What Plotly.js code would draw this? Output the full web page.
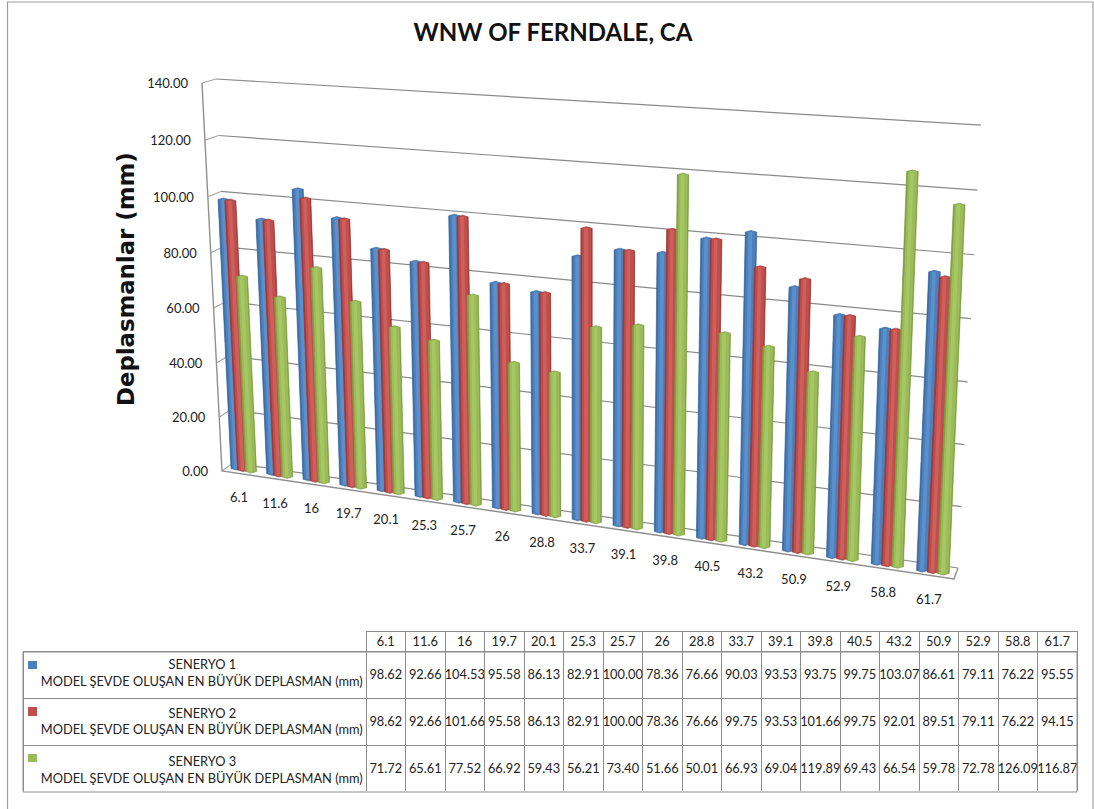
<!DOCTYPE html>
<html><head><meta charset="utf-8">
<script src="https://cdn.plot.ly/plotly-3.0.1.min.js"></script>
<style>html,body{margin:0;padding:0;background:#fff}#c{width:1094px;height:809px}</style>
</head><body><div id="c"></div>
<script>
const categories = ["6.1","11.6","16","19.7","20.1","25.3","25.7","26","28.8","33.7","39.1","39.8","40.5","43.2","50.9","52.9","58.8","61.7"];
const seneryo1 = [98.62,92.66,104.53,95.58,86.13,82.91,100.00,78.36,76.66,90.03,93.53,93.75,99.75,103.07,86.61,79.11,76.22,95.55];
const seneryo2 = [98.62,92.66,101.66,95.58,86.13,82.91,100.00,78.36,76.66,99.75,93.53,101.66,99.75,92.01,89.51,79.11,76.22,94.15];
const seneryo3 = [71.72,65.61,77.52,66.92,59.43,56.21,73.40,51.66,50.01,66.93,69.04,119.89,69.43,66.54,59.78,72.78,126.09,116.87];
const seriesNames = ["SENERYO 1","SENERYO 2","SENERYO 3"];
const rowLabel = "MODEL ŞEVDE OLUŞAN EN BÜYÜK DEPLASMAN (mm)";
const gridValues = [0,20,40,60,80,100,120,140];
const seriesColors = ["#4c80bd","#c04f4c","#9abb58"];
const seriesDark = ["#376798","#98343 2".replace(" ",""),"#7a983f"];
const seriesLight = ["#6094d0","#d16360","#aacb67"];

const W = 1094, H = 809, FONT = "Lato, sans-serif";
const Y0 = 470, PX = 2.771;              // page row of the zero line and pixels per unit of the plot's y axis
const toAxis = py => (Y0 - py) / PX;     // page row -> y-axis units

// Oblique view of the chart box: height warp, floor position, then height and lean at that position
const warp = v => v * (0.965 + 0.00025 * v);
const groundX = i => (243 + 34.07 * i) / (1 - 0.00698 * i);
const groundY = x => 470 + 0.1478 * (x - 243);
const rise = x => 2.756 + 0.00059 * (x - 237);
const lean = x => 0.00038 * (x - 585);

function barPolys(values, s) {
  const out = {base:{x:[],y:[]}, dark:{x:[],y:[]}, light:{x:[],y:[]}};
  values.forEach((v, i) => {
    const t = i / 17, hw = 5.5 + 0.3 * t;
    const spacing = s === 0 ? 6.5 + 4 * t : 8 + 2.5 * t;
    const cx = groundX(i) + (s - 1) * spacing;
    const cy = groundY(groundX(i)) + (s - 1) * 1.5;
    const h = warp(v);
    const tx = cx + lean(cx) * h, ty = cy - rise(cx) * h;
    const pt = (a, e) => [cx + (a*2-1)*hw + (tx-cx)*e, cy - (cy-ty)*e];
    const band = (o, a0, a1, round) => {
      const p = [pt(a0,0), [(pt(a0,0)[0]+pt(a1,0)[0])/2, cy + round], pt(a1,0), pt(a1,1),
                 [(pt(a0,1)[0]+pt(a1,1)[0])/2, ty - round], pt(a0,1), pt(a0,0)];
      p.forEach(q => { o.x.push(q[0]); o.y.push(toAxis(q[1])); });
      o.x.push(null); o.y.push(null);
    };
    band(out.base, 0, 1, 1.6);
    band(out.dark, 0, 0.12, 0);
    band(out.dark, 0.92, 1, 0);
    band(out.light, 0.3, 0.62, 0);
  });
  return out;
}

const traces = [];
const common = {hoverinfo:"skip",cliponaxis:false,showlegend:false};
const grid = {x:[], y:[]}, side = {x:[], y:[]};
gridValues.forEach(g => {
  const v = warp(g);
  grid.x.push(233 - 0.121*v, 958 + 0.164*v, null);
  grid.y.push(toAxis(463 - 2.743*v), toAxis(568 - 3.164*v), null);
  side.x.push(222 - 0.143*v, 233 - 0.121*v, null);
  side.y.push(toAxis(471 - 2.771*v), toAxis(463 - 2.743*v), null);
});
traces.push({type:"scatter",mode:"lines",x:grid.x,y:grid.y,line:{color:"#8a8a8a",width:1.2},...common});
traces.push({type:"scatter",mode:"lines",x:side.x,y:side.y,line:{color:"#a6a6a6",width:1.1},...common});
const vmax = warp(gridValues[gridValues.length-1]);
traces.push({type:"scatter",mode:"lines",
  x:[222-0.143*vmax,222,954,958],
  y:[toAxis(471-2.771*vmax),toAxis(471),toAxis(579),toAxis(568)],
  line:{color:"#8f8f8f",width:1.4},...common});

[seneryo1,seneryo2,seneryo3].forEach((vals,s)=>{
  const p = barPolys(vals,s);
  traces.push({type:"scatter",mode:"lines",name:seriesNames[s],x:p.base.x,y:p.base.y,fill:"toself",fillcolor:seriesColors[s],line:{color:seriesDark[s],width:0.6},...common});
  traces.push({type:"scatter",mode:"lines",x:p.dark.x,y:p.dark.y,fill:"toself",fillcolor:seriesDark[s],line:{width:0},opacity:0.7,...common});
  traces.push({type:"scatter",mode:"lines",x:p.light.x,y:p.light.y,fill:"toself",fillcolor:seriesLight[s],line:{width:0},opacity:0.8,...common});
});

// value-axis labels follow the slanted left edge of the box
traces.push({type:"scatter",mode:"text",text:gridValues.map(g=>g.toFixed(2)),
  x:gridValues.map(g=>222-0.143*warp(g)-14),
  y:gridValues.map(g=>toAxis(473-2.771*warp(g))),
  textposition:"middle left",textfont:{family:FONT,size:13,color:"#222"},...common});
// category labels follow the front edge of the floor
traces.push({type:"scatter",mode:"text",text:categories,
  x:categories.map((c,i)=>groundX(i)-4),
  y:categories.map((c,i)=>toAxis(groundY(groundX(i))+29)),
  textposition:"middle center",textfont:{family:FONT,size:13,color:"#222"},...common});

const pad = n => "\u00a0".repeat(n);
const labelCells = seriesNames.map(n => pad(42) + n + "<br>" + pad(3) + rowLabel);
const numCols = categories.map((c,i)=>[seneryo1[i],seneryo2[i],seneryo3[i]].map(v=>v.toFixed(2)));
const colW = [343].concat(categories.map(()=>39.5));
const clear = "rgba(0,0,0,0)", rule = "#8c8c8c";
const tableFont = {family:FONT,size:12.8,color:"#222"};
const tableDomain = d => ({x:[23/W,1077/W],y:[1-(792+d)/H,1-(631+d)/H]});
const blankCol = ["","",""];
// ruled grid
traces.push({type:"table",domain:tableDomain(0),columnwidth:colW,
  header:{values:[""].concat(categories.map(()=>"")),height:20,fill:{color:clear},
    line:{color:[clear].concat(categories.map(()=>rule)),width:1}},
  cells:{values:[blankCol].concat(categories.map(()=>blankCol)),height:47,fill:{color:clear},line:{color:rule,width:1}}});
// header and row-label text, raised slightly
traces.push({type:"table",domain:tableDomain(-3),columnwidth:colW,
  header:{values:[""].concat(categories),height:20,align:"center",font:tableFont,fill:{color:clear},line:{color:clear,width:0}},
  cells:{values:[labelCells].concat(categories.map(()=>blankCol)),height:47,align:"left",font:tableFont,fill:{color:clear},line:{color:clear,width:0}}});
// numeric cells, set lower so they sit mid-row
traces.push({type:"table",domain:tableDomain(10),columnwidth:colW,
  header:{values:[""].concat(categories.map(()=>"")),height:20,fill:{color:clear},line:{color:clear,width:0}},
  cells:{values:[blankCol].concat(numCols),height:47,align:"center",font:tableFont,fill:{color:clear},line:{color:clear,width:0}}});

const keyRows = [[661,669],[707,716],[754,762]];
const P = (x0,y0,x1,y1,o) => ({type:"rect",xref:"paper",yref:"paper",x0:x0/W,x1:x1/W,y0:1-y0/H,y1:1-y1/H,...o});
const shapes = [P(7.5,2,1093,815,{line:{color:"#a0a0a0",width:1.2},fillcolor:clear,layer:"below"}),
  P(23,652,1077,792,{line:{color:rule,width:1},fillcolor:clear})]
 .concat(keyRows.map((r,s)=>P(28,r[0],37,r[1],{line:{width:0},fillcolor:seriesColors[s]})));

Plotly.newPlot("c",traces,{
  width:W,height:H,margin:{l:0,r:0,t:0,b:0},paper_bgcolor:"#fff",plot_bgcolor:clear,showlegend:false,
  title:{text:"<b>WNW OF FERNDALE, CA</b>",x:553/W,xanchor:"center",y:1-33/H,yanchor:"middle",font:{family:FONT,size:24,color:"#111"}},
  xaxis:{domain:[140/W,1000/W],range:[140,1000],visible:false,fixedrange:true},
  yaxis:{domain:[1-620/H,1],range:[toAxis(620),toAxis(0)],visible:false,fixedrange:true},
  annotations:[{text:"<b>Deplasmanlar (mm)</b>",xref:"paper",yref:"paper",x:126/W,y:1-279/H,xanchor:"center",yanchor:"middle",textangle:-90,showarrow:false,font:{family:"DejaVu Sans, sans-serif",size:22.8,color:"#111"}}],
  shapes
},{displayModeBar:false,staticPlot:true});
</script></body></html>
